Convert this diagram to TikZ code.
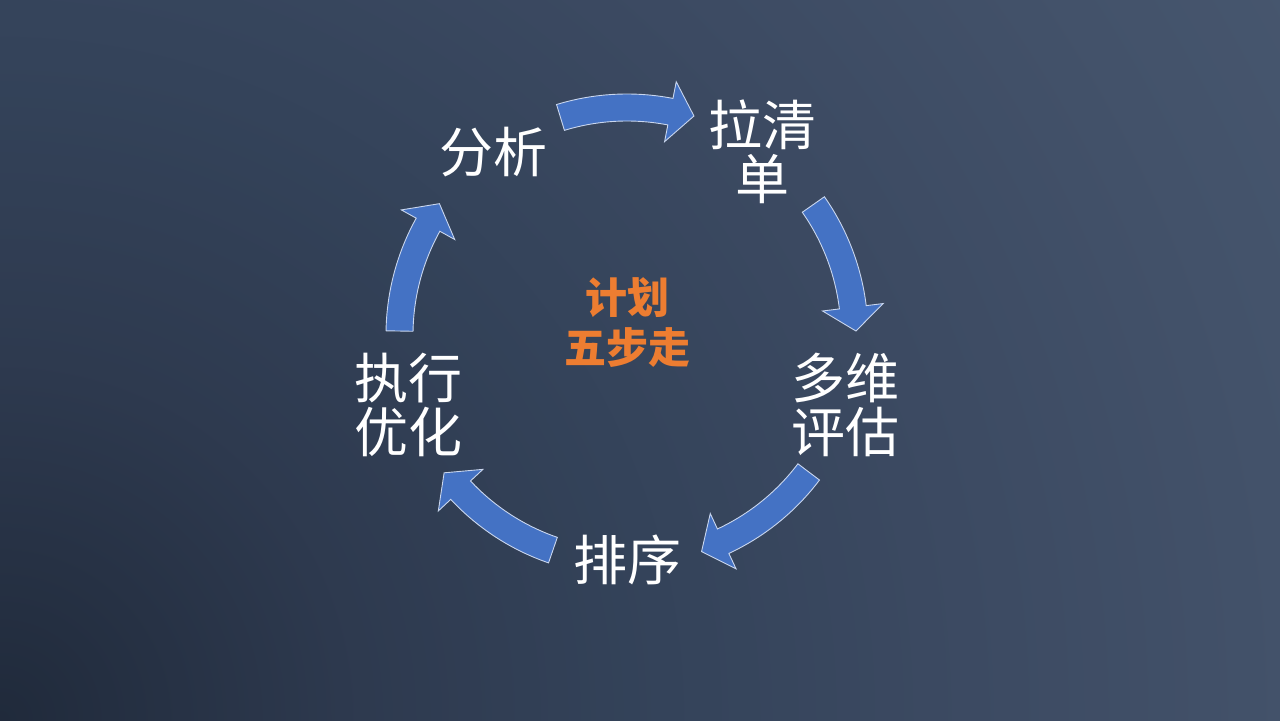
\documentclass[tikz,border=0pt]{standalone}
\usepackage{fontspec}
\newfontfamily\cjk{Noto Sans CJK SC}
\definecolor{arrowblue}{HTML}{4472C4}
\definecolor{arrowedge}{HTML}{C9D6EE}
\definecolor{planorange}{HTML}{ED7D31}
\pgfdeclareradialshading{bgsh}{\pgfpoint{0bp}{0bp}}{rgb(0bp)=(0.125,0.165,0.231); rgb(12bp)=(0.180,0.227,0.310); rgb(22bp)=(0.204,0.263,0.353); rgb(32bp)=(0.235,0.290,0.384); rgb(42.7bp)=(0.263,0.322,0.416); rgb(49bp)=(0.275,0.337,0.431); rgb(50bp)=(0.278,0.341,0.435)}
\begin{document}
\begin{tikzpicture}[x=0.5pt,y=0.5pt,
  cyc/.style={fill=arrowblue, draw=arrowedge, line width=0.45pt, line join=miter},
  lbl/.style={text=white, font=\cjk\fontsize{27}{27}\selectfont, align=center, inner sep=0pt},
  ctr/.style={text=planorange, font=\cjk\bfseries\fontsize{21}{25}\selectfont, align=center, inner sep=0pt}]
\path[use as bounding box] (0,0) rectangle (1280,720);
\begin{scope}
  \clip (0,0) rectangle (1280,720);
  \node[inner sep=0pt, outer sep=0pt, scale=15.06, overlay] (bg) at (0,0) {\pgfuseshading{bgsh}};
\end{scope}
\coordinate (c) at (627,385);
\foreach \m in {90,18,-54,-126,-198}{
  \pgfmathsetmacro\t{\m+17}
  \pgfmathsetmacro\b{\m-11}
  \pgfmathsetmacro\p{\m-17}
  \draw[cyc, shift={(c)}] (\t:241) arc[start angle=\t, end angle=\b, radius=241]
    -- (\b:258) -- (\p:229) -- (\b:197) -- (\b:214)
    arc[start angle=\b, end angle=\t, radius=214] -- cycle;
}
\node[lbl] (fx) at (493,568) {分析};
\node[lbl] (lqd) at (762,568) {拉清\\单};
\node[lbl] (dwpg) at (845,315) {多维\\评估};
\node[lbl] (px) at (627,160) {排序};
\node[lbl] (zxyh) at (408,315) {执行\\优化};
\node[ctr] (jh) at (627,397) {计划\\五步走};
\end{tikzpicture}
\end{document}
